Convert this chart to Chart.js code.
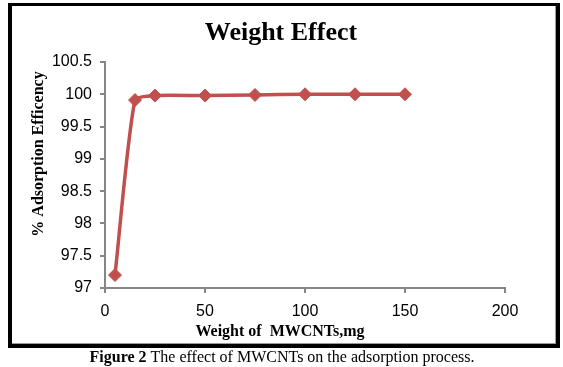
<!DOCTYPE html>
<html>
<head>
<meta charset="utf-8">
<script src="https://cdn.jsdelivr.net/npm/chart.js@4.4.1/dist/chart.umd.min.js"></script>
<style>
  html, body { margin: 0; padding: 0; background: #fff; }
  #wrap { position: relative; width: 563px; height: 367px; }
</style>
</head>
<body>
<div id="wrap"><canvas id="chart" width="563" height="367"></canvas></div>
<script>
// Data
const weights = [5, 15, 25, 50, 75, 100, 125, 150];
const efficiency = [97.2, 99.91, 99.98, 99.98, 99.99, 100, 100, 100];
const xTicks = [0, 50, 100, 150, 200];
const yTicks = [97, 97.5, 98, 98.5, 99, 99.5, 100, 100.5];

const serif = "'Times New Roman', 'Liberation Serif', serif";
const sans = "Arial, 'Liberation Sans', sans-serif";

// Frame, titles and caption drawn around the plot
const decorPlugin = {
    id: 'decor',
    afterDraw(chart) {
        const ctx = chart.ctx;
        ctx.save();

        // outer frame
        ctx.fillStyle = '#000';
        ctx.fillRect(8, 3, 552, 3);
        ctx.fillRect(8, 3, 4, 345);
        ctx.fillRect(556, 3, 4, 345);
        ctx.fillRect(8, 344, 552, 4);
        ctx.fillStyle = '#9a9a9a';
        ctx.fillRect(12, 343, 544, 1);
        ctx.fillRect(555, 6, 1, 338);

        ctx.fillStyle = '#000';
        ctx.textBaseline = 'alphabetic';
        ctx.textAlign = 'center';

        // chart title
        ctx.font = 'bold 26px ' + serif;
        ctx.fillText('Weight Effect', 281, 40);

        // x axis title
        ctx.font = 'bold 16px ' + serif;
        ctx.fillText('Weight of  MWCNTs,mg', 280, 336);

        // y axis title
        ctx.save();
        ctx.translate(43, 154);
        ctx.rotate(-Math.PI / 2);
        ctx.fillText('% Adsorption Efficency', 0, 0);
        ctx.restore();

        // caption under the frame
        const boldPart = 'Figure 2';
        const restPart = ' The effect of MWCNTs on the adsorption process.';
        ctx.font = 'bold 16px ' + serif;
        const w1 = ctx.measureText(boldPart).width;
        ctx.font = '16px ' + serif;
        const w2 = ctx.measureText(restPart).width;
        let cx = 282 - (w1 + w2) / 2;
        ctx.textAlign = 'left';
        ctx.font = 'bold 16px ' + serif;
        ctx.fillText(boldPart, cx, 362);
        ctx.font = '16px ' + serif;
        ctx.fillText(restPart, cx + w1, 362);

        ctx.restore();
    }
};

const ctx = document.getElementById('chart').getContext('2d');
new Chart(ctx, {
    type: 'scatter',
    data: {
        datasets: [{
            data: weights.map((w, i) => ({ x: w, y: efficiency[i] })),
            showLine: true,
            borderColor: '#C0504D',
            backgroundColor: '#C0504D',
            borderWidth: 3.5,
            tension: 0.2,
            pointStyle: 'rectRot',
            pointRadius: 6.5,
            pointHoverRadius: 6.5,
            pointBorderWidth: 1
        }]
    },
    options: {
        responsive: false,
        animation: false,
        layout: { padding: { left: 0, top: 62, right: 58, bottom: 49 } },
        plugins: {
            legend: { display: false },
            tooltip: { enabled: false },
            title: { display: false }
        },
        scales: {
            x: {
                type: 'linear',
                min: 0,
                max: 200,
                afterBuildTicks: (scale) => { scale.ticks = xTicks.map(v => ({ value: v })); },
                afterFit: (scale) => { scale.height = 30; },
                border: { color: '#868686', width: 2 },
                grid: { drawOnChartArea: false, color: '#868686', lineWidth: 2, tickLength: 5 },
                ticks: { color: '#000', padding: 9, font: { family: sans, size: 16 }, callback: (v) => String(v) }
            },
            y: {
                min: 97,
                max: 100.5,
                afterBuildTicks: (scale) => { scale.ticks = yTicks.map(v => ({ value: v })); },
                afterFit: (scale) => { scale.width = 105; },
                border: { color: '#868686', width: 2 },
                grid: { drawOnChartArea: false, color: '#868686', lineWidth: 2, tickLength: 5 },
                ticks: { color: '#000', padding: 8, font: { family: sans, size: 16 }, callback: (v) => String(v) }
            }
        }
    },
    plugins: [decorPlugin]
});
</script>
</body>
</html>
